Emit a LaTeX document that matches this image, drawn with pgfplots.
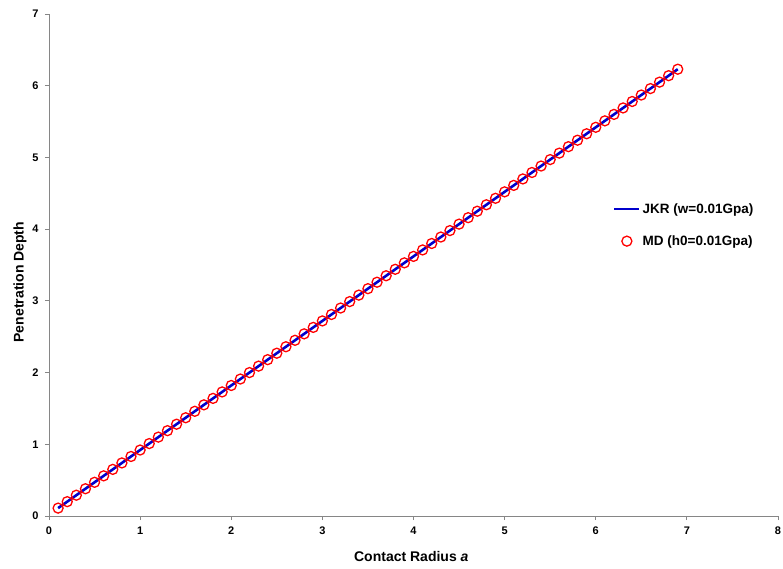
\documentclass[border=0pt]{standalone}
\usepackage{fontspec}
\setmainfont{Liberation Sans}
\usepackage{pgfplots}
\pgfplotsset{compat=1.18}
\usepackage{pgfplotstable}
\definecolor{jkrblue}{RGB}{0,0,204}
\definecolor{mdred}{RGB}{255,0,0}
\definecolor{axgray}{RGB}{134,134,134}
\pgfplotsset{
  jkrleg/.style={legend image code/.code={\draw[##1, jkrblue, line width=2.6pt] (0pt,0pt) -- (25pt,0pt);}},
  mdleg/.style={legend image code/.code={\path[draw=none, fill=none] (0pt,0pt) rectangle (25pt,0.1pt);\draw[mdred, line width=1.3pt, fill=none] (12.5pt,0pt) circle (5pt);}},
}
\pgfplotstableread{
x y
0.1 0.11
0.2 0.20
0.3 0.29
0.4 0.38
0.5 0.47
0.6 0.56
0.7 0.65
0.8 0.74
0.9 0.83
1.0 0.92
1.1 1.01
1.2 1.10
1.3 1.19
1.4 1.28
1.5 1.37
1.6 1.46
1.7 1.55
1.8 1.64
1.9 1.73
2.0 1.82
2.1 1.91
2.2 2.00
2.3 2.09
2.4 2.18
2.5 2.27
2.6 2.36
2.7 2.45
2.8 2.54
2.9 2.63
3.0 2.72
3.1 2.81
3.2 2.90
3.3 2.99
3.4 3.08
3.5 3.17
3.6 3.26
3.7 3.35
3.8 3.44
3.9 3.53
4.0 3.62
4.1 3.71
4.2 3.80
4.3 3.89
4.4 3.98
4.5 4.07
4.6 4.16
4.7 4.25
4.8 4.34
4.9 4.43
5.0 4.52
5.1 4.61
5.2 4.70
5.3 4.79
5.4 4.88
5.5 4.97
5.6 5.06
5.7 5.15
5.8 5.24
5.9 5.33
6.0 5.42
6.1 5.51
6.2 5.60
6.3 5.69
6.4 5.78
6.5 5.87
6.6 5.96
6.7 6.05
6.8 6.14
6.9 6.23
}\datatable
\begin{document}
\begin{tikzpicture}
\useasboundingbox (-49pt,-53pt) rectangle (734pt,516pt);
\begin{axis}[
  at={(0,0)}, anchor=south west,
  scale only axis,
  width=729pt, height=502pt,
  xmin=0, xmax=8, ymin=0, ymax=7,
  xtick={0,...,8}, ytick={0,...,7},
  axis lines*=left,
  axis line style={axgray, line width=0.8pt},
  tick style={axgray, line width=0.8pt},
  tick align=outside,
  major tick length=4pt,
  /pgf/number format/assume math mode=true,
  tick label style={font=\fontsize{11}{13}\selectfont\bfseries},
  xticklabel style={yshift=-3pt},
  yticklabel style={xshift=-3pt},
  xlabel={Contact Radius \textit{a}},
  ylabel={Penetration Depth},
  label style={font=\fontsize{14}{16}\selectfont\bfseries},
  xlabel style={at={(axis description cs:0.497,0)}, anchor=north, yshift=-32pt},
  ylabel style={at={(axis description cs:0,0.466)}, anchor=south, yshift=19pt},
  legend style={draw=none, fill=none, at={(axis cs:6.155,4.42)}, anchor=north west,
    font=\fontsize{13.5}{15}\selectfont\bfseries, row sep=17pt,
    /tikz/every even column/.append style={column sep=1pt}},
  legend cell align=left,
  clip=false,
]
\addplot[color=jkrblue, line width=2.6pt, no markers, jkrleg] table[x=x,y=y]{\datatable};
\addlegendentry{JKR (w=0.01Gpa)}
\addplot[only marks, mark=o, mark size=5pt, mark options={mdred, line width=1.3pt}, mdleg] table[x=x,y=y]{\datatable};
\addlegendentry{MD (h0=0.01Gpa)}
\end{axis}
\end{tikzpicture}
\end{document}
